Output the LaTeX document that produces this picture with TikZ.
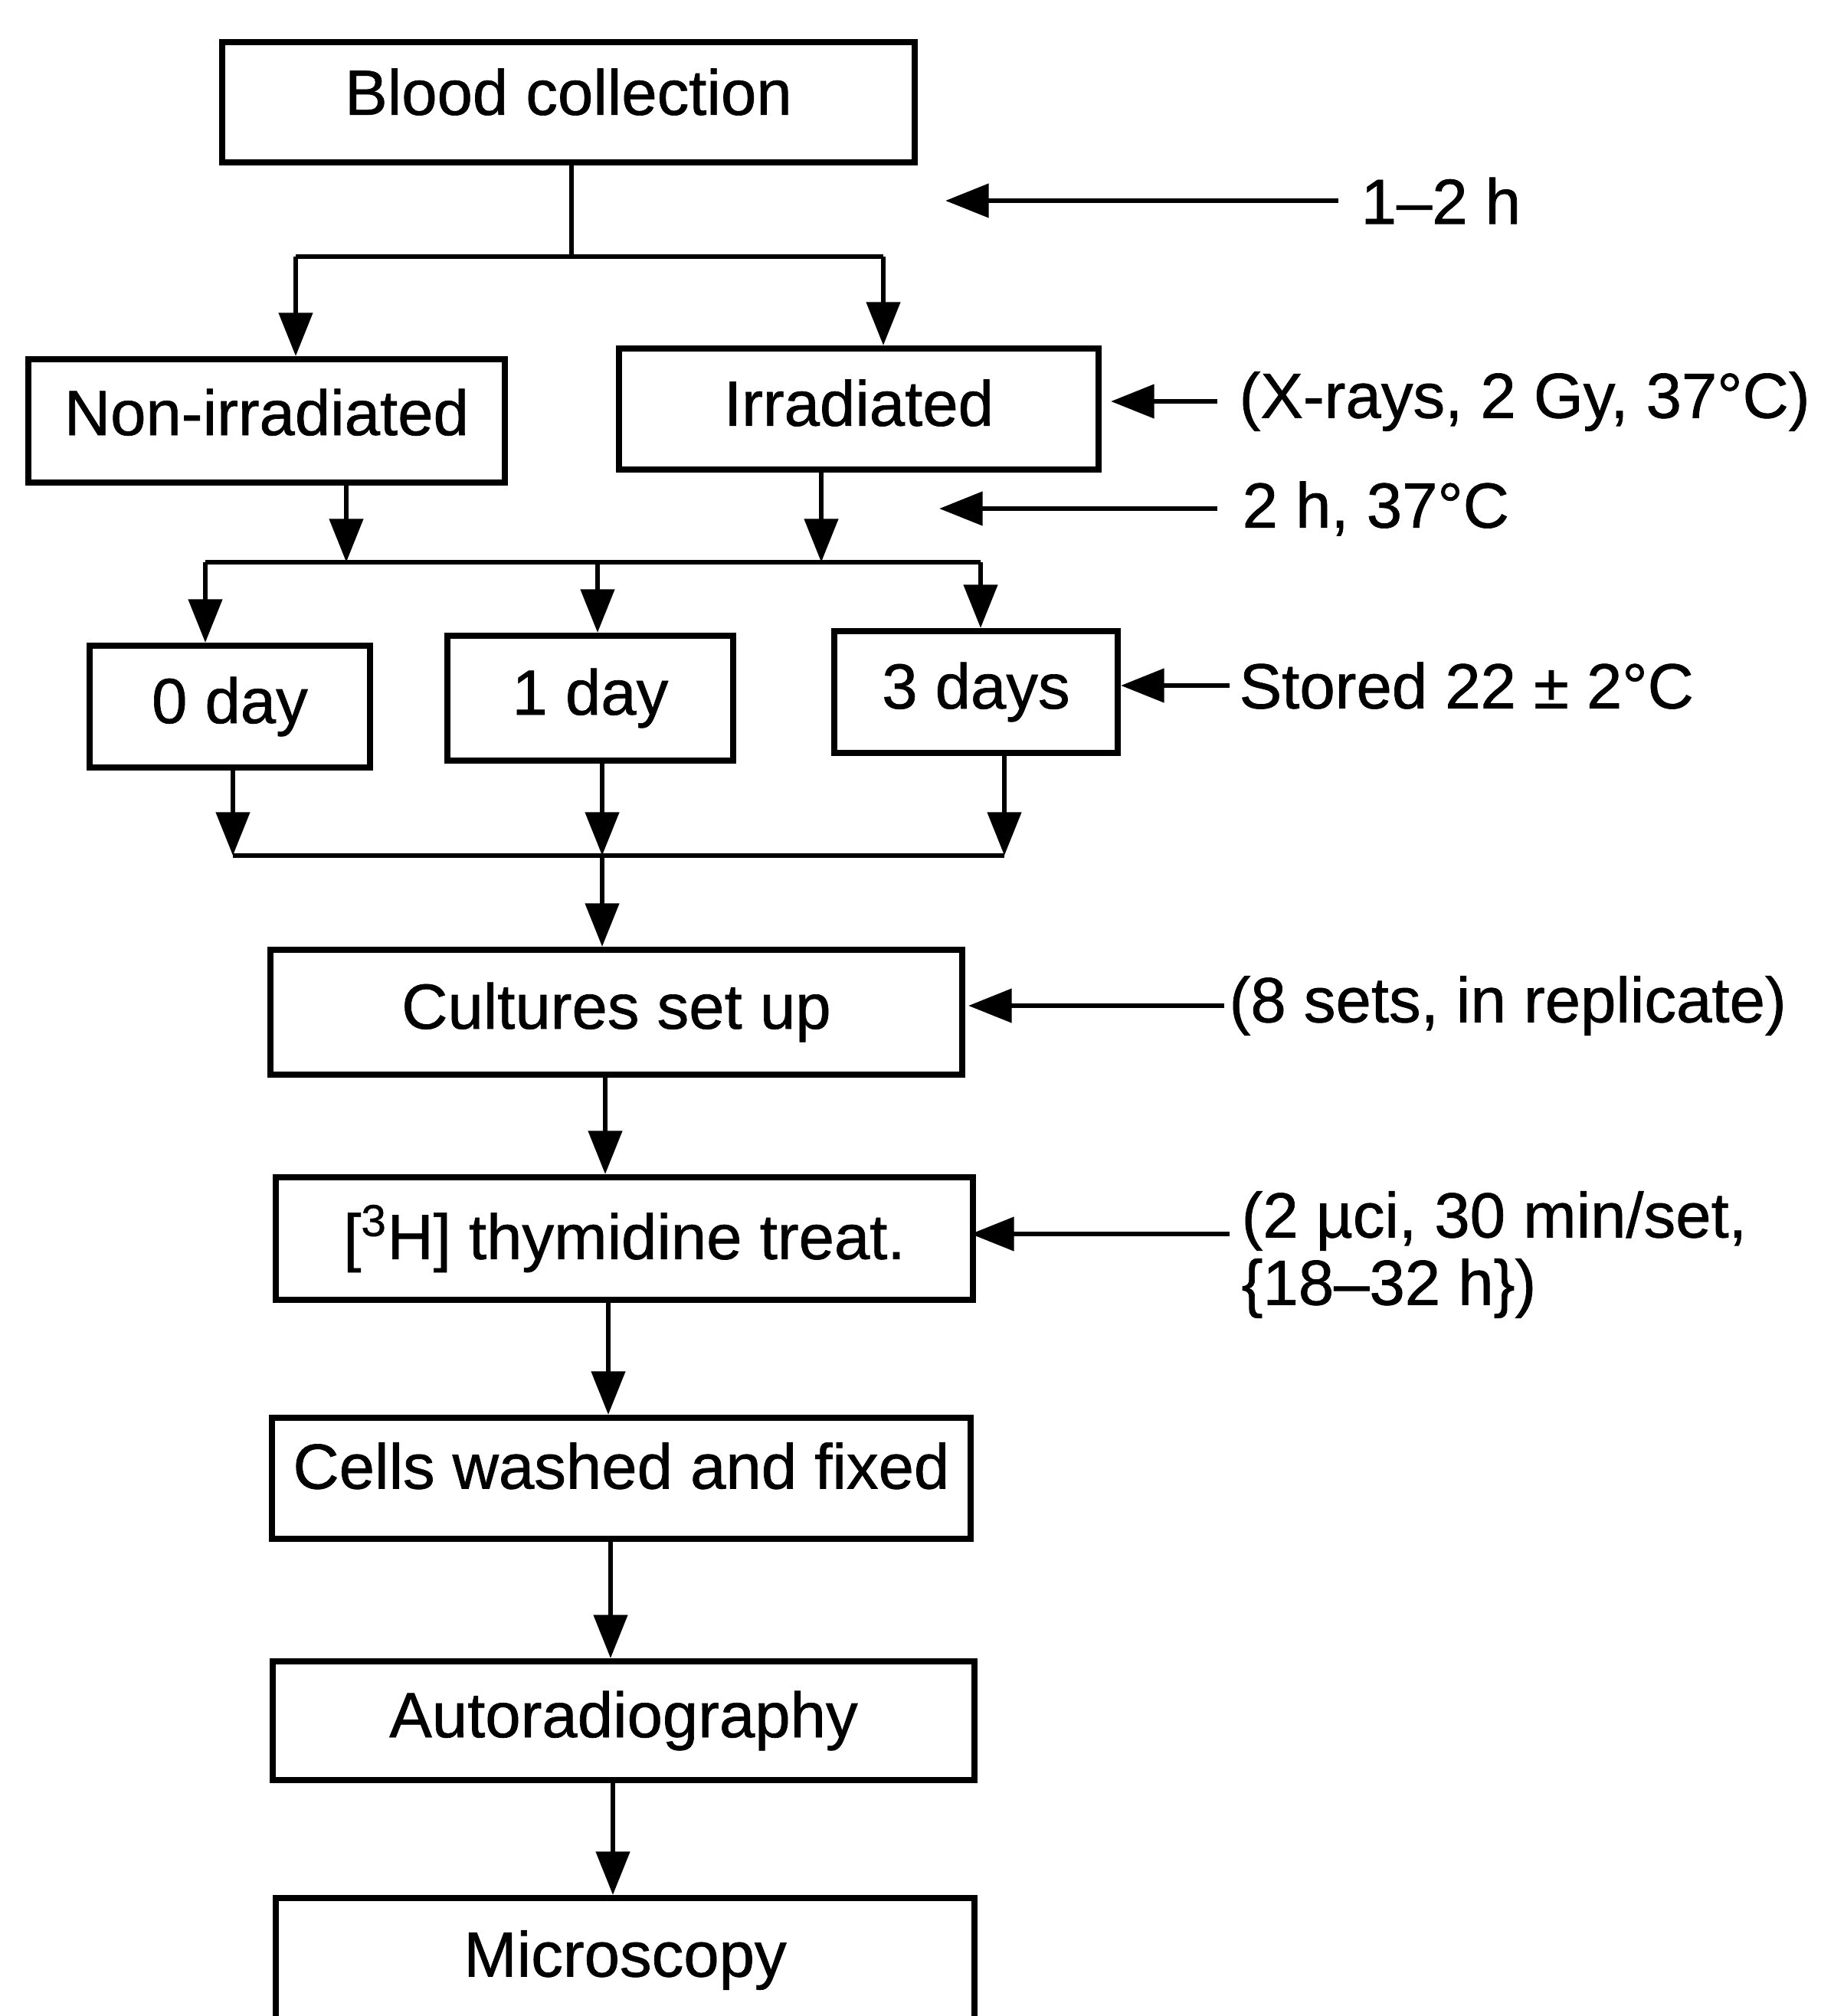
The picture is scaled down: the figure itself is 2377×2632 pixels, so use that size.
\documentclass[tikz,border=0pt]{standalone}
\usepackage{fontspec}
\setmainfont[FakeBold=0.8]{Liberation Sans}
\usetikzlibrary{arrows.meta}
\begin{document}
\begin{tikzpicture}[x=0.3pt,y=-0.3pt,
  box/.style={draw, line width=2.4pt, inner sep=0pt, font=\fontsize{25}{30}\selectfont},
  lab/.style={inner sep=0pt, font=\fontsize{25}{26.4}\selectfont, align=left},
  conn/.style={line width=2pt},
  arr/.style={line width=2pt, -{Triangle[length=17pt,width=13pt]}},
  sarr/.style={line width=2pt, -{Triangle[length=17pt,width=13pt]}}
]
\useasboundingbox (0,0) rectangle (2377,2632);
\clip (0,0) rectangle (2377,2632);

% boxes
\node[box, minimum width=271.2pt, minimum height=47.1pt, text depth=8pt] (blood) at (742,133) {Blood collection};
\node[box, minimum width=186.6pt, minimum height=48.3pt, text depth=7pt] (nonirr) at (348,549.5) {Non-irradiated};
\node[box, minimum width=187.8pt, minimum height=47.4pt, text depth=5pt] (irr) at (1121,534) {Irradiated};
\node[box, minimum width=109.8pt, minimum height=47.7pt] (d0) at (300,922.5) {0 day};
\node[box, minimum width=111.9pt, minimum height=48.9pt] (d1) at (770.5,911.5) {1 day};
\node[box, minimum width=111pt, minimum height=47.7pt] (d3) at (1274,903.5) {3 days};
\node[box, minimum width=270.9pt, minimum height=48.9pt] (cult) at (804.5,1321.5) {Cultures set up};
\node[box, minimum width=273pt, minimum height=48pt] (thym) at (815,1617) {[\textsuperscript{3}H] thymidine treat.};
\node[box, minimum width=273.6pt, minimum height=47.4pt, text depth=10pt] (cells) at (811,1930) {Cells washed and fixed};
\node[box, minimum width=274.8pt, minimum height=46.5pt] (auto) at (814,2246.5) {Autoradiography};
\node[box, minimum width=273.6pt, minimum height=48.6pt] (micro) at (816,2559) {Microscopy};

% split after blood collection
\coordinate (j1) at (746,335);
\coordinate (j1L) at (386,335);
\coordinate (j1R) at (1153,335);
\draw[conn] (j1 |- blood.south) -- (j1);
\draw[conn] (j1L) -- (j1R);
\draw[arr] (j1L) -- (j1L |- nonirr.north);
\draw[arr] (j1R) -- (j1R |- irr.north);

% second bus
\coordinate (n1) at (452,734);
\coordinate (n2) at (1072,734);
\coordinate (b2L) at (268,734);
\coordinate (b2M) at (780,734);
\coordinate (b2R) at (1280,734);
\draw[arr] (n1 |- nonirr.south) -- (n1);
\draw[arr] (n2 |- irr.south) -- (n2);
\draw[conn] (b2L) -- (b2R);
\draw[arr] (b2L) -- (b2L |- d0.north);
\draw[arr] (b2M) -- (b2M |- d1.north);
\draw[arr] (b2R) -- (b2R |- d3.north);

% third bus
\coordinate (b3L) at (304,1117);
\coordinate (b3M) at (786,1117);
\coordinate (b3R) at (1311,1117);
\draw[arr] (b3L |- d0.south) -- (b3L);
\draw[arr] (b3M |- d1.south) -- (b3M);
\draw[arr] (b3R |- d3.south) -- (b3R);
\draw[conn] (b3L) -- (b3R);
\draw[arr] (b3M) -- (b3M |- cult.north);

% main chain
\coordinate (c1) at (790,0);
\coordinate (c2) at (794,0);
\coordinate (c3) at (797,0);
\coordinate (c4) at (800,0);
\draw[arr] (c1 |- cult.south) -- (c1 |- thym.north);
\draw[arr] (c2 |- thym.south) -- (c2 |- cells.north);
\draw[arr] (c3 |- cells.south) -- (c3 |- auto.north);
\draw[arr] (c4 |- auto.south) -- (c4 |- micro.north);

% side labels
\node[lab, anchor=west] (t12) at (1776,262) {1–2 h};
\coordinate (t12tip) at (1234,262);
\draw[sarr, shorten <=8.7pt] (t12.west) -- (t12tip);

\node[lab, anchor=west] (txr) at (1617,524) {(X-rays, 2 Gy, 37°C)};
\coordinate (txrtip) at (1450,524);
\draw[sarr, shorten <=8.4pt] (txr.west) -- (txrtip);

\node[lab, anchor=west] (t2h) at (1621,664) {2 h, 37°C};
\coordinate (t2htip) at (1226,664);
\draw[sarr, shorten <=9.6pt] (t2h.west) -- (t2htip);

\node[lab, anchor=west] (tst) at (1617,895) {Stored 22 ± 2°C};
\draw[sarr, shorten <=3.6pt] (tst.west) -- (tst.west -| d3.east);

\node[lab, anchor=west] (t8) at (1604,1313) {(8 sets, in replicate)};
\coordinate (t8tip) at (1264,1313);
\draw[sarr, shorten <=1.8pt] (t8.west) -- (t8tip);

\node[lab, anchor=west] (tuc) at (1620,1638) {(2 µci, 30 min/set,\\\{18–32 h\})};
\coordinate (tucs) at (1605,1611);
\coordinate (tuctip) at (1267,1611);
\draw[sarr] (tucs) -- (tuctip);
\end{tikzpicture}
\end{document}
